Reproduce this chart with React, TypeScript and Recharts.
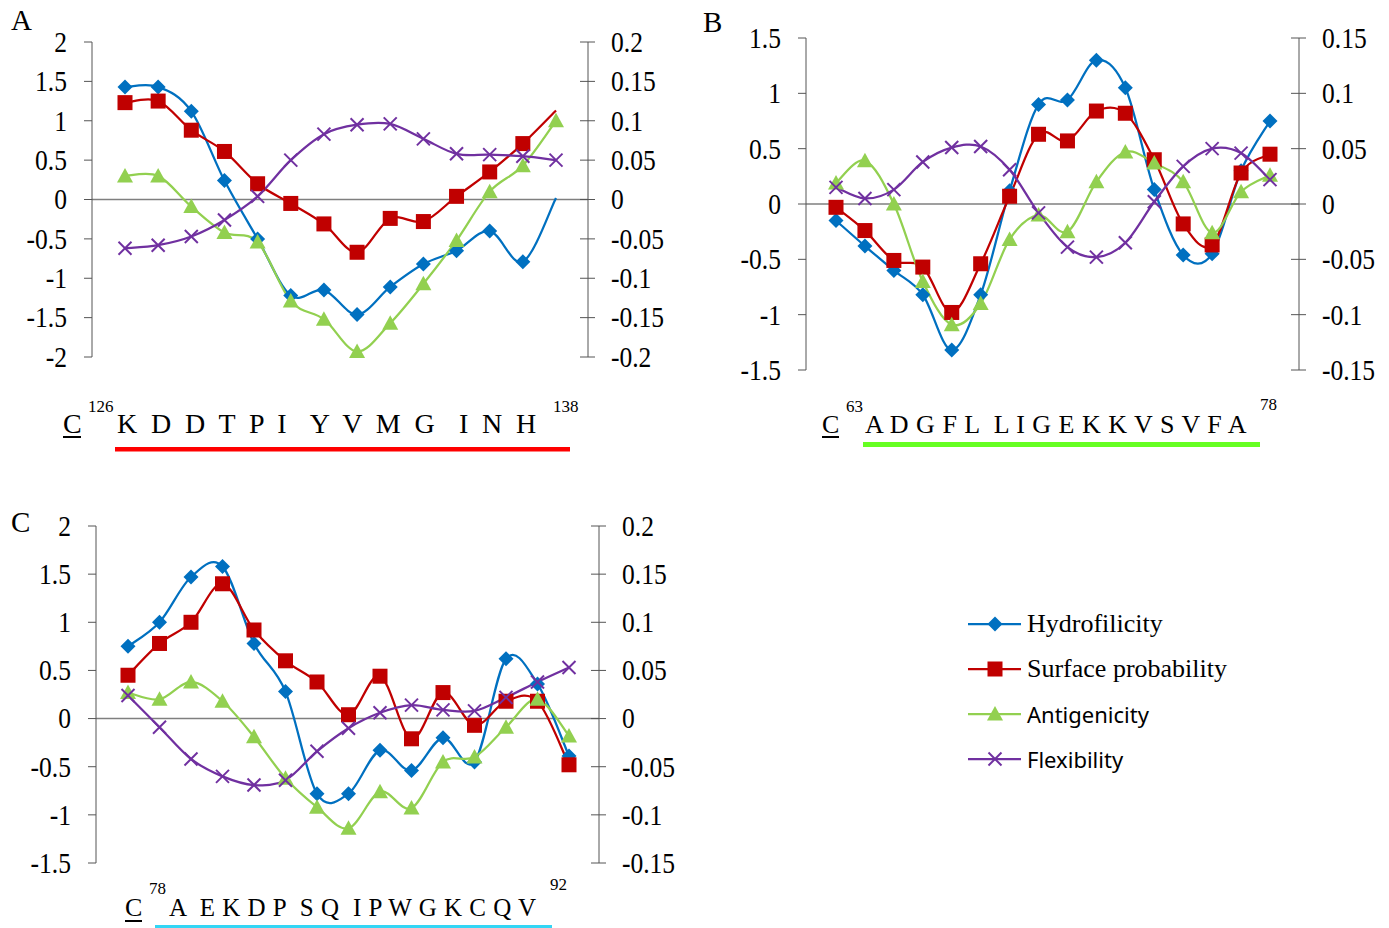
import React from "react";
import { LineChart, Line, XAxis, YAxis, ReferenceLine, Legend } from "recharts";

// residues under each panel (A has one extra trailing point)
const RES_A = ["K", "D", "D", "T", "P", "I", "Y", "V", "M", "G", "I", "N", "H", ""];
const RES_B = ["A", "D", "G", "F", "L", "L", "I", "G", "E", "K", "K", "V", "S", "V", "F", "A"];
const RES_C = ["A", "E", "K", "D", "P", "S", "Q", "I", "P", "W", "G", "K", "C", "Q", "V"];

const hydroA = [1.43, 1.43, 1.12, 0.24, -0.5, -1.22, -1.15, -1.46, -1.11, -0.82, -0.65, -0.4, -0.79, 0.02];
const surfA = [1.23, 1.25, 0.88, 0.61, 0.2, -0.05, -0.31, -0.67, -0.24, -0.28, 0.04, 0.35, 0.71, 1.13];
const antiA = [0.3, 0.3, -0.09, -0.42, -0.54, -1.29, -1.52, -1.93, -1.57, -1.07, -0.52, 0.1, 0.43, 1.0];
const flexA = [-0.062, -0.058, -0.047, -0.026, 0.004, 0.05, 0.083, 0.095, 0.096, 0.077, 0.058, 0.057, 0.055, 0.05];

const hydroB = [-0.15, -0.38, -0.6, -0.82, -1.32, -0.82, 0.12, 0.9, 0.94, 1.3, 1.05, 0.13, -0.46, -0.45, 0.3, 0.75];
const surfB = [-0.03, -0.24, -0.51, -0.57, -0.98, -0.54, 0.07, 0.63, 0.57, 0.84, 0.82, 0.4, -0.18, -0.37, 0.28, 0.45];
const antiB = [0.19, 0.39, 0.0, -0.7, -1.09, -0.9, -0.32, -0.1, -0.25, 0.2, 0.47, 0.37, 0.2, -0.26, 0.11, 0.26];
const flexB = [0.015, 0.005, 0.013, 0.038, 0.051, 0.052, 0.031, -0.008, -0.039, -0.048, -0.035, 0.002, 0.034, 0.05, 0.046, 0.022];

const hydroC = [0.75, 1.0, 1.47, 1.58, 0.78, 0.28, -0.78, -0.78, -0.33, -0.54, -0.2, -0.45, 0.62, 0.36, -0.39];
const surfC = [0.45, 0.78, 1.0, 1.4, 0.92, 0.6, 0.38, 0.04, 0.44, -0.21, 0.27, -0.07, 0.18, 0.18, -0.48];
const antiC = [0.27, 0.2, 0.38, 0.18, -0.19, -0.62, -0.92, -1.14, -0.76, -0.93, -0.45, -0.4, -0.09, 0.2, -0.18];
const flexC = [0.024, -0.009, -0.042, -0.06, -0.069, -0.064, -0.034, -0.01, 0.006, 0.014, 0.009, 0.008, 0.022, 0.038, 0.053];

const leftTicksA = [-2, -1.5, -1, -0.5, 0, 0.5, 1, 1.5, 2];
const rightTicksA = [-0.2, -0.15, -0.1, -0.05, 0, 0.05, 0.1, 0.15, 0.2];
const leftTicksB = [-1.5, -1, -0.5, 0, 0.5, 1, 1.5];
const rightTicksB = [-0.15, -0.1, -0.05, 0, 0.05, 0.1, 0.15];
const leftTicksC = [-1.5, -1, -0.5, 0, 0.5, 1, 1.5, 2];
const rightTicksC = [-0.15, -0.1, -0.05, 0, 0.05, 0.1, 0.15, 0.2];

const SERIF = "Liberation Serif, Times New Roman, serif";
const SANS = "Noto Sans, Open Sans, sans-serif";
const AXIS = "#555";

const SERIES = [
  { key: "hydro", name: "Hydrofilicity", color: "#0070C0", shape: "diamond", axis: "l", font: SERIF, size: 26 },
  { key: "surf", name: "Surface probability", color: "#C00000", shape: "square", axis: "l", font: SERIF, size: 26 },
  { key: "anti", name: "Antigenicity", color: "#92D050", shape: "triangle", axis: "l", font: SANS, size: 22 },
  { key: "flex", name: "Flexibility", color: "#7030A0", shape: "cross", axis: "r", font: SANS, size: 22 },
];

const rows = (res, h, s, a, f) =>
  res.map((r, i) => ({ idx: i, res: r, hydro: h[i], surf: s[i], anti: a[i], flex: f[i] }));

const dataA = rows(RES_A, hydroA, surfA, antiA, flexA);
const dataB = rows(RES_B, hydroB, surfB, antiB, flexB);
const dataC = rows(RES_C, hydroC, surfC, antiC, flexC);

// Excel-like smoothed line (Catmull-Rom through the points)
function smoothCurve(context) {
  let pts = [];
  return {
    areaStart() {},
    areaEnd() {},
    lineStart() {
      pts = [];
    },
    point(x, y) {
      pts.push([+x, +y]);
    },
    lineEnd() {
      if (!pts.length) return;
      context.moveTo(pts[0][0], pts[0][1]);
      for (let i = 0; i < pts.length - 1; i++) {
        const p0 = pts[i - 1] || pts[i];
        const p1 = pts[i];
        const p2 = pts[i + 1];
        const p3 = pts[i + 2] || p2;
        context.bezierCurveTo(
          p1[0] + (p2[0] - p0[0]) / 6,
          p1[1] + (p2[1] - p0[1]) / 6,
          p2[0] - (p3[0] - p1[0]) / 6,
          p2[1] - (p3[1] - p1[1]) / 6,
          p2[0],
          p2[1]
        );
      }
    },
  };
}

function marker(shape, cx, cy, color) {
  if (shape === "diamond")
    return <polygon points={`${cx},${cy - 7.5} ${cx + 7.5},${cy} ${cx},${cy + 7.5} ${cx - 7.5},${cy}`} fill={color} />;
  if (shape === "square") return <rect x={cx - 7.5} y={cy - 7.5} width={15} height={15} fill={color} />;
  if (shape === "triangle")
    return <polygon points={`${cx},${cy - 8} ${cx + 8},${cy + 6.5} ${cx - 8},${cy + 6.5}`} fill={color} />;
  return (
    <g stroke={color} strokeWidth={2}>
      <line x1={cx - 6.5} y1={cy - 6.5} x2={cx + 6.5} y2={cy + 6.5} />
      <line x1={cx - 6.5} y1={cy + 6.5} x2={cx + 6.5} y2={cy - 6.5} />
    </g>
  );
}

const makeDot = (shape, color, skip) => (p) => {
  const k = `${shape}-${p.index}`;
  if (p.cx == null || p.cy == null || p.index === skip) return <g key={k} />;
  return <g key={k}>{marker(shape, p.cx, p.cy, color)}</g>;
};

// Times-like labels, slightly condensed as in the source figure
const TickText = ({ x, y, anchor, value }) => (
  <text
    transform={`translate(${x},${y}) scale(0.88,1)`}
    dy="0.34em"
    textAnchor={anchor}
    fontFamily={SERIF}
    fontSize={29}
    fill="#000"
  >
    {value}
  </text>
);

const RightTick = (p) => (
  <g>
    <line x1={p.x - 31} x2={p.x - 16} y1={p.y} y2={p.y} stroke={AXIS} />
    <TickText x={p.x} y={p.y} anchor="start" value={p.payload.value} />
  </g>
);

const LeftTick = (p) => <TickText x={p.x} y={p.y} anchor="end" value={p.payload.value} />;

const LegendBox = () => (
  <div>
    {SERIES.map((s) => (
      <div key={s.key} style={{ display: "flex", alignItems: "center", height: 45 }}>
        <svg width={54} height={20} style={{ overflow: "visible" }}>
          <line x1={0} y1={10} x2={53} y2={10} stroke={s.color} strokeWidth={2.25} />
          {marker(s.shape, 27, 10, s.color)}
        </svg>
        <span style={{ fontFamily: s.font, fontSize: s.size, marginLeft: 5, color: "#000", whiteSpace: "nowrap" }}>
          {s.name}
        </span>
      </div>
    ))}
  </div>
);

function Panel({ data, width, height, margin, pad, lDomain, lTicks, rDomain, rTicks, skipLast, legend }) {
  const last = data.length - 1;
  return (
    <LineChart width={width} height={height} data={data} margin={margin}>
      <XAxis dataKey="idx" type="number" domain={[0, last]} hide padding={pad} />
      <YAxis
        yAxisId="l"
        width={60}
        domain={lDomain}
        ticks={lTicks}
        interval={0}
        tickSize={8}
        tickMargin={17}
        stroke={AXIS}
        tick={<LeftTick />}
      />
      <YAxis
        yAxisId="r"
        orientation="right"
        width={80}
        domain={rDomain}
        ticks={rTicks}
        interval={0}
        tickSize={7}
        tickMargin={16}
        tickLine={false}
        stroke={AXIS}
        tick={<RightTick />}
      />
      <ReferenceLine yAxisId="l" y={0} stroke="#7f7f7f" strokeWidth={1.5} />
      {SERIES.map((s) => (
        <Line
          key={s.key}
          dataKey={s.key}
          name={s.name}
          xAxisId={0}
          yAxisId={s.axis}
          type={smoothCurve}
          stroke={s.color}
          strokeWidth={2.25}
          dot={makeDot(s.shape, s.color, skipLast.includes(s.key) ? last : -1)}
          activeDot={false}
          isAnimationActive={false}
        />
      ))}
      {legend && (
        <Legend
          layout="vertical"
          align="center"
          verticalAlign="middle"
          content={<LegendBox />}
          wrapperStyle={{ left: 968, top: 131, width: 300 }}
        />
      )}
    </LineChart>
  );
}

const txt = { fontFamily: SERIF, fill: "#000" };
const pre = { whiteSpace: "pre" };

export default function App() {
  return (
    <div style={{ position: "absolute", left: 0, top: 0, width: 1389, height: 928, background: "#fff" }}>
      <div style={{ position: "absolute", left: 0, top: 0 }}>
        <Panel
          data={dataA}
          width={700}
          height={460}
          margin={{ top: 42, right: 32, bottom: 103, left: 32 }}
          pad={{ left: 33, right: 32 }}
          lDomain={[-2, 2]}
          lTicks={leftTicksA}
          rDomain={[-0.2, 0.2]}
          rTicks={rightTicksA}
          skipLast={["hydro", "surf"]}
        />
      </div>
      <div style={{ position: "absolute", left: 700, top: 0 }}>
        <Panel
          data={dataB}
          width={689}
          height={460}
          margin={{ top: 38, right: 10, bottom: 90, left: 46 }}
          pad={{ left: 30, right: 29 }}
          lDomain={[-1.5, 1.5]}
          lTicks={leftTicksB}
          rDomain={[-0.15, 0.15]}
          rTicks={rightTicksB}
          skipLast={[]}
        />
      </div>
      <div style={{ position: "absolute", left: 0, top: 470 }}>
        <Panel
          data={dataC}
          width={700}
          height={458}
          margin={{ top: 56, right: 21, bottom: 65, left: 36 }}
          pad={{ left: 32, right: 30 }}
          lDomain={[-1.5, 2]}
          lTicks={leftTicksC}
          rDomain={[-0.15, 0.2]}
          rTicks={rightTicksC}
          skipLast={[]}
          legend
        />
      </div>
      <svg width={1389} height={928} style={{ position: "absolute", left: 0, top: 0, pointerEvents: "none" }}>
        <text x={11} y={30} fontSize={29} {...txt}>A</text>
        <text x={703} y={32} fontSize={29} {...txt}>B</text>
        <text x={11} y={532} fontSize={29} {...txt}>C</text>

        {/* A sequence */}
        <text x={63} y={433} fontSize={28} {...txt}>C</text>
        <line x1={63} x2={81} y1={437} y2={437} stroke="#000" strokeWidth={2} />
        <text x={88} y={412} fontSize={17} {...txt}>126</text>
        <text x={117} y={433} fontSize={28} letterSpacing={3.4} style={pre} {...txt}>
          {"K D D T P I  Y V M G  I N H"}
        </text>
        <text x={553} y={412} fontSize={17} {...txt}>138</text>
        <rect x={115} y={447} width={455} height={4.5} fill="#ff0000" />

        {/* B sequence */}
        <text x={822} y={433} fontSize={26} {...txt}>C</text>
        <line x1={822} x2={839} y1={437} y2={437} stroke="#000" strokeWidth={2} />
        <text x={846} y={412} fontSize={17} {...txt}>63</text>
        <text x={865} y={433} fontSize={26} letterSpacing={0.5} style={pre} {...txt}>
          {"A D G F L  L I G E K K V S V F A"}
        </text>
        <text x={1260} y={410} fontSize={17} {...txt}>78</text>
        <rect x={863} y={442} width={397} height={5} fill="#66ff22" />

        {/* C sequence */}
        <text x={125} y={916} fontSize={26} {...txt}>C</text>
        <line x1={125} x2={142} y1={921} y2={921} stroke="#000" strokeWidth={2} />
        <text x={149} y={894} fontSize={17} {...txt}>78</text>
        <text x={169} y={916} fontSize={25} letterSpacing={0.5} style={pre} {...txt}>
          {"A  E K D P  S Q  I P W G K C Q V"}
        </text>
        <text x={550} y={890} fontSize={17} {...txt}>92</text>
        <rect x={155} y={925} width={397} height={3} fill="#33d6f5" />
      </svg>
    </div>
  );
}
